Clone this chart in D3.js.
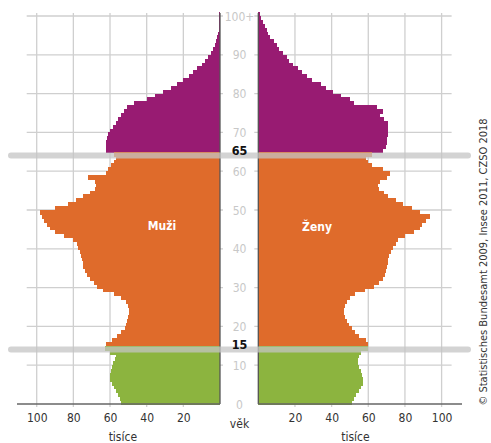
<!DOCTYPE html>
<html><head><meta charset="utf-8">
<script src="https://cdn.jsdelivr.net/npm/d3@7"></script>
<style>body{margin:0;background:#fff}svg{display:block}</style>
</head><body>
<svg id="c" width="491" height="443"></svg>
<script>
// age index 0..100 (100 = 100+), values in thousands
const ages = d3.range(0, 101);
const males = [54,54.5,55.5,56.5,58,59,60,60,59.5,59, 58.5,57.5,57,60,63, 62,59,56,54,52,
  51.5,50.5,50,49.5,49.5,50,51.5,54,58,64, 67,69,71,72.5,73.5,74.5,75,75.5,76,76.5,
  77.5,78,80,85,90,93,94.5,96,97,98, 90,83,78.5,75,71,68,67.5,68,72,62,
  61,59.5,58,56.5,58, 62,62,62,61.5,61, 60,58.5,57,55.5,54,52.5,51,47,40,35.5,
  31,27,23.5,20,17,14.5,12.5,10,8,6.5, 5,4,3,2,1.5,1,0.8,0.6,0.4,0.3, 0.6];
const females = [51,52,53.5,55,56,57,57,56.5,56,55, 54.5,54.5,55,56,60, 60,58.5,55,52.5,51,
  49.5,48.5,47.5,47,47,47.5,48.5,50,53,58, 63,66,68,69,69.5,70,70.5,71,71.5,72.5,
  73.5,75,76,80,85,88,89.5,91.5,93.5,88, 84,79,75,71,68.5,66,65.5,66.5,70,72,
  68,62,60,59,62, 68,69.5,70,70,70.5, 71,71,70.5,68.5,66.5,68,65,52,50,45,
  40.5,37,34,29.5,26.5,24,21.5,19,17,15.5, 13.5,11.5,10,8.5,6.5,5.5,4.5,3.5,2.5,1.5, 1];
const xTicks = [20, 40, 60, 80, 100];
const ageTicks = [0, 10, 20, 30, 40, 50, 60, 70, 80, 90];
const groupBreaks = [15, 65];
const groupColors = ["#8cb43f", "#df6b2b", "#981b72"];
const labels = {men: "Muži", women: "Ženy", age: "věk", unit: "tisíce", top: "100+",
  source: "© Statistisches Bundesamt 2009, Insee 2011, CZSO 2018"};

const svg = d3.select("#c");
const FONT = "'DejaVu Sans Condensed','DejaVu Sans',sans-serif";
const xL = d3.scaleLinear().domain([0, 100]).range([220, 36.7]);
const xR = d3.scaleLinear().domain([0, 100]).range([258.3, 441.6]);
const y = d3.scaleLinear().domain([0, 100]).range([404, 16]);
const colorOf = a => a < groupBreaks[0] ? groupColors[0] : (a < groupBreaks[1] ? groupColors[1] : groupColors[2]);

// gridlines
const grid = svg.append("g").attr("stroke", "#cfcfcf").attr("stroke-width", 1.3);
xTicks.forEach(t => {
  grid.append("line").attr("x1", xL(t)).attr("x2", xL(t)).attr("y1", y(100) - 3).attr("y2", y(0) + 3);
  grid.append("line").attr("x1", xR(t)).attr("x2", xR(t)).attr("y1", y(100) - 3).attr("y2", y(0) + 3);
});
ageTicks.concat([100]).filter(a => a > 0).forEach(a => {
  grid.append("line").attr("x1", xL(100) - 10).attr("x2", xL(0) + 3).attr("y1", y(a)).attr("y2", y(a));
  grid.append("line").attr("x1", xR(0) - 4).attr("x2", xR(100) + 10).attr("y1", y(a)).attr("y2", y(a));
});

// bars (drawn top-down so each lower bar overlaps the seam above it)
const bh = y(0) - y(1);
const order = ages.slice().reverse();
svg.append("g").attr("shape-rendering", "crispEdges").selectAll("rect").data(order).join("rect")
  .attr("x", a => xL(males[a])).attr("width", a => xL(0) - xL(males[a]))
  .attr("y", a => y(a + 1)).attr("height", bh + 1).attr("fill", colorOf);
svg.append("g").attr("shape-rendering", "crispEdges").selectAll("rect").data(order).join("rect")
  .attr("x", xR(0)).attr("width", a => xR(females[a]) - xR(0))
  .attr("y", a => y(a + 1)).attr("height", bh + 1).attr("fill", colorOf);

// centre vertical lines
svg.append("line").attr("x1", xL(0)).attr("x2", xL(0)).attr("y1", y(100) - 3).attr("y2", y(0)).attr("stroke", "#555").attr("stroke-width", 1.3);
svg.append("line").attr("x1", xR(0)).attr("x2", xR(0)).attr("y1", y(100) - 3).attr("y2", y(0)).attr("stroke", "#555").attr("stroke-width", 1.3);

// bottom axes
const axL = d3.axisBottom(xL).tickValues(xTicks).tickSize(0).tickPadding(9).tickFormat(d3.format("d"));
const axR = d3.axisBottom(xR).tickValues(xTicks).tickSize(0).tickPadding(9).tickFormat(d3.format("d"));
[[axL, 17, 220], [axR, 258.3, 462]].forEach(([ax, a, b]) => {
  const g = svg.append("g").attr("transform", `translate(0,${y(0)})`).call(ax);
  g.select(".domain").remove();
  g.selectAll("text").attr("font-family", FONT).attr("font-size", 12).attr("fill", "#333");
  svg.append("line").attr("x1", a).attr("x2", b).attr("y1", y(0)).attr("y2", y(0)).attr("stroke", "#666").attr("stroke-width", 1.5);
});

// group bands
groupBreaks.forEach(a => {
  svg.append("line").attr("x1", 11).attr("x2", 468).attr("y1", y(a - 0.95)).attr("y2", y(a - 0.95))
    .attr("stroke", "#c4c4c4").attr("stroke-opacity", 0.75).attr("stroke-width", 6).attr("stroke-linecap", "round");
});

// centre age labels
const cx = 239.5;
ageTicks.forEach(a => {
  svg.append("text").attr("x", cx).attr("y", y(a) + 4.5).attr("text-anchor", "middle")
    .attr("font-family", FONT).attr("font-size", 12).attr("fill", "#c8c8c8").text(a);
});
svg.append("text").attr("x", cx).attr("y", y(100) + 4.5).attr("text-anchor", "middle")
  .attr("font-family", FONT).attr("font-size", 12).attr("fill", "#c8c8c8").text(labels.top);
groupBreaks.forEach(a => {
  svg.append("text").attr("x", cx).attr("y", y(a) + 3).attr("text-anchor", "middle")
    .attr("font-family", FONT).attr("font-size", 12.5).attr("font-weight", "bold").attr("fill", "#111").text(a);
});

// labels
svg.append("text").attr("x", 162).attr("y", 229.5).attr("text-anchor", "middle").attr("font-family", FONT)
  .attr("font-size", 12).attr("font-weight", "bold").attr("fill", "#fff").text(labels.men);
svg.append("text").attr("x", 317).attr("y", 230.5).attr("text-anchor", "middle").attr("font-family", FONT)
  .attr("font-size", 12).attr("font-weight", "bold").attr("fill", "#fff").text(labels.women);
svg.append("text").attr("x", cx).attr("y", 427.5).attr("text-anchor", "middle").attr("font-family", FONT)
  .attr("font-size", 12).attr("fill", "#333").text(labels.age);
svg.append("text").attr("x", xL(53)).attr("y", 441).attr("text-anchor", "middle").attr("font-family", FONT)
  .attr("font-size", 12).attr("fill", "#333").text(labels.unit);
svg.append("text").attr("x", xR(53)).attr("y", 441).attr("text-anchor", "middle").attr("font-family", FONT)
  .attr("font-size", 12).attr("fill", "#333").text(labels.unit);
svg.append("text").attr("transform", "translate(487,262) rotate(-90)").attr("text-anchor", "middle")
  .attr("font-family", FONT).attr("font-size", 11).attr("fill", "#333").text(labels.source);
</script>
</body></html>
